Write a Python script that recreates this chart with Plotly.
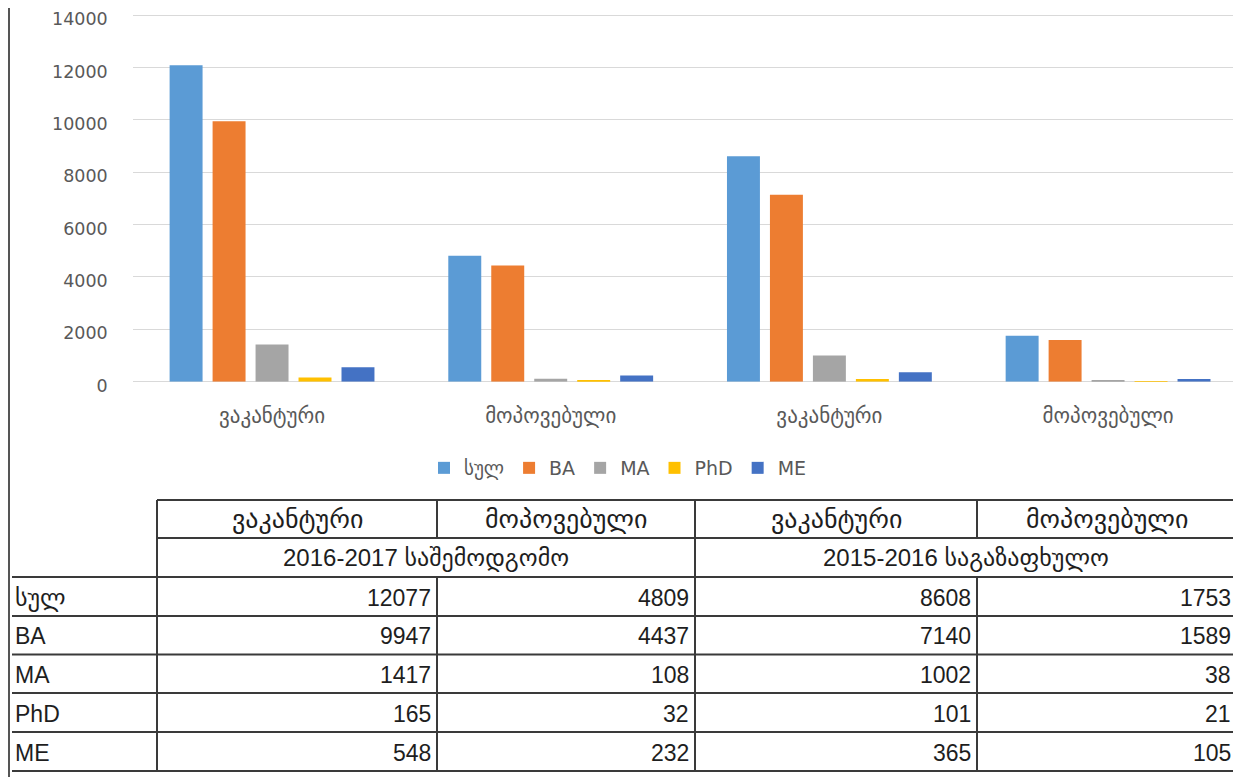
import plotly.graph_objects as go

# ---------------- data ----------------
categories = ["ვაკანტური", "მოპოვებული", "ვაკანტური", "მოპოვებული"]
periods = ["2016-2017 საშემოდგომო", "2015-2016 საგაზაფხულო"]
series_names = ["სულ", "BA", "MA", "PhD", "ME"]
total_vals = [12077, 4809, 8608, 1753]
ba_vals = [9947, 4437, 7140, 1589]
ma_vals = [1417, 108, 1002, 38]
phd_vals = [165, 32, 101, 21]
me_vals = [548, 232, 365, 105]
y_ticks = [0, 2000, 4000, 6000, 8000, 10000, 12000, 14000]

series_values = [total_vals, ba_vals, ma_vals, phd_vals, me_vals]
colors = ["#5B9BD5", "#ED7D31", "#A5A5A5", "#FFC000", "#4472C4"]

# page body has an 8px margin; figure is sized/offset so the page matches
OFF = 8
W, H = 1241 - OFF, 777 - OFF
FONT = "DejaVu Sans, sans-serif"
TFONT = "Liberation Sans, DejaVu Sans, sans-serif"


def px(x):
    return (x - OFF) / W


def py(y):
    return 1 - (y - OFF) / H


Y_MAX = 14000
Y_TOP = 14040  # small headroom so the top gridline is kept
y0_px, ymax_px = 381.7, 15.0
top_px = y0_px - (y0_px - ymax_px) * Y_TOP / Y_MAX

fig = go.Figure()
xpos = list(range(len(categories)))
for name, vals, col in zip(series_names, series_values, colors):
    fig.add_trace(go.Bar(x=xpos, y=vals, name=name, marker_color=col,
                         marker_line_width=0))

fig.update_layout(
    width=W, height=H,
    margin=dict(l=0, r=0, t=0, b=0, autoexpand=False),
    paper_bgcolor="white", plot_bgcolor="white",
    barmode="group", bargap=0.229, bargroupgap=0.233,
    font=dict(family=FONT, size=18, color="#595959"),
    showlegend=True,
    legend=dict(orientation="h", x=px(618), xanchor="center",
                y=py(468), yanchor="middle",
                font=dict(family=FONT, size=19, color="#595959"),
                itemwidth=30, traceorder="normal"),
    xaxis=dict(domain=[px(132.7), 1], range=[-0.5, 3.477],
               tickvals=xpos, ticktext=categories, showgrid=False,
               showline=False, zeroline=False, ticks="", automargin=False,
               ticklabelstandoff=19,
               tickfont=dict(family=FONT, size=21, color="#595959")),
    yaxis=dict(domain=[py(y0_px), py(top_px)], range=[0, Y_TOP],
               tickvals=y_ticks, ticktext=[str(v) for v in y_ticks],
               showgrid=True, gridcolor="#d9d9d9",
               gridwidth=1, zeroline=True, zerolinecolor="#d9d9d9",
               zerolinewidth=1, showline=False, ticks="", automargin=False,
               ticklabelstandoff=24, ticklabeloverflow="allow",
               ticklabelshift=4,
               tickfont=dict(family=FONT, size=17.5, color="#595959")),
)

shapes = []
annotations = []
LC = "#3a3a3a"


def hline(x0, x1, y):
    shapes.append(dict(type="line", xref="paper", yref="paper",
                       x0=px(x0), x1=px(x1), y0=py(y), y1=py(y),
                       line=dict(color=LC, width=2)))


def vline(x, y0, y1, color=LC, width=2):
    shapes.append(dict(type="line", xref="paper", yref="paper",
                       x0=px(x), x1=px(x), y0=py(y0), y1=py(y1),
                       line=dict(color=color, width=width)))


# outer frame line on the left
vline(9, 0, 777, color="#555555", width=2)

col_edges = [12, 157, 437, 695, 977, 1237]
row_edges = [500, 538, 577, 616, 654.5, 693, 732, 771]

# table grid
hline(col_edges[1], col_edges[-1], row_edges[0])
hline(col_edges[1], col_edges[-1], row_edges[1])
for ry in row_edges[2:]:
    hline(col_edges[0], col_edges[-1], ry)
vline(col_edges[1], row_edges[0], row_edges[-1])
vline(col_edges[-1], row_edges[0], row_edges[-1])
vline(col_edges[3], row_edges[0], row_edges[-1])
for cx in (col_edges[2], col_edges[4]):
    vline(cx, row_edges[0], row_edges[1])
    vline(cx, row_edges[2], row_edges[-1])

TXT = "#1e1e1e"


def text(x, y, s, anchor="center", size=22):
    annotations.append(dict(xref="paper", yref="paper", x=px(x), y=py(y),
                            text=s, showarrow=False, xanchor=anchor,
                            yanchor="middle",
                            font=dict(family=TFONT, size=size, color=TXT)))


# header row: categories
for i, cat in enumerate(categories):
    cx = (col_edges[i + 1] + col_edges[i + 2]) / 2
    text(cx, (row_edges[0] + row_edges[1]) / 2, cat, size=26)
# period row (merged)
for j, per in enumerate(periods):
    cx = (col_edges[1 + 2 * j] + col_edges[3 + 2 * j]) / 2
    text(cx, (row_edges[1] + row_edges[2]) / 2, per, size=24)
# data rows
for r, (name, vals) in enumerate(zip(series_names, series_values)):
    cy = (row_edges[2 + r] + row_edges[3 + r]) / 2 + 1
    text(col_edges[0] + 1, cy, name, anchor="left",
         size=24 if r == 0 else 23)
    for i, v in enumerate(vals):
        text(col_edges[i + 2] - 4, cy, str(v), anchor="right", size=23)

fig.update_layout(shapes=shapes, annotations=annotations)
fig.write_html("out.html")
